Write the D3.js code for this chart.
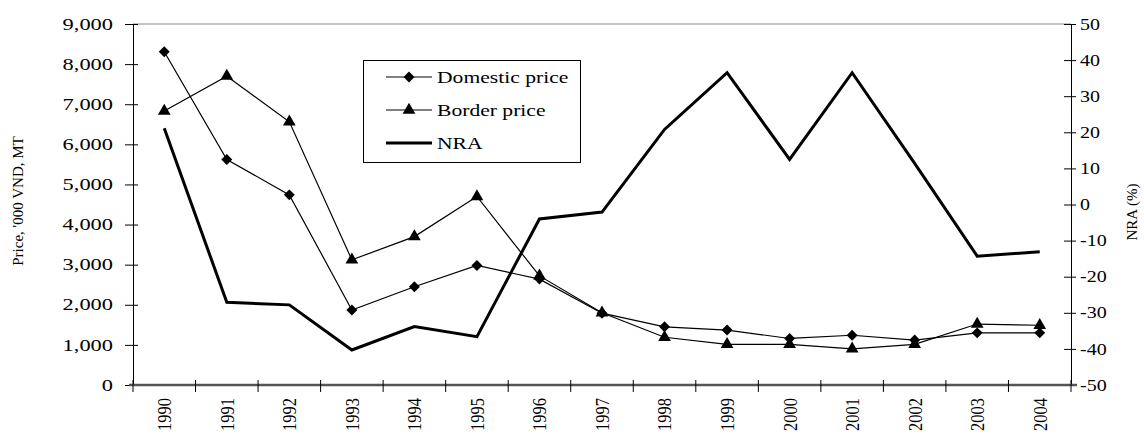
<!DOCTYPE html>
<html><head><meta charset="utf-8">
<script src="https://cdn.jsdelivr.net/npm/d3@7"></script>
<style>body{margin:0;background:#fff}svg{display:block}text{font-family:"Liberation Serif","Times New Roman",serif;fill:#000}</style>
</head><body><svg id="c" width="1144" height="435"></svg>
<script>
const years = ["1990","1991","1992","1993","1994","1995","1996","1997","1998","1999","2000","2001","2002","2003","2004"];
const domesticPrice = [8310,5620,4740,1870,2450,2980,2640,1790,1450,1370,1160,1240,1120,1300,1300];
const borderPrice = [6830,7700,6560,3120,3700,4700,2720,1800,1190,1015,1015,900,1015,1520,1490];
const nra = [21.1,-27.1,-27.8,-40.3,-33.8,-36.6,-4.0,-2.1,20.8,36.5,12.5,36.5,11.4,-14.3,-13.1];
const leftTicks = [0,1000,2000,3000,4000,5000,6000,7000,8000,9000];
const rightTicks = [-50,-40,-30,-20,-10,0,10,20,30,40,50];
const seriesNames = ["Domestic price","Border price","NRA"];
const leftTitle = "Price, '000 VND, MT";
const rightTitle = "NRA (%)";

const SX = 1.4;
const svg = d3.select("#c");
const L=133,R=1071,T=24,B=385;
const x = d3.scaleBand().domain(years).range([L,R]).padding(0);
const yL = d3.scaleLinear().domain([0,9000]).range([B,T]);
const yR = d3.scaleLinear().domain([-50,50]).range([B,T]);
const cx = d => x(d)+x.bandwidth()/2;

// top border
svg.append("line").attr("x1",L).attr("x2",R).attr("y1",T).attr("y2",T).attr("stroke","#888").attr("stroke-width",1);

// left axis
const gL = svg.append("g").attr("transform",`translate(${L},0)`)
  .call(d3.axisLeft(yL).tickValues(leftTicks).tickFormat(d3.format(",")).tickSizeInner(8).tickSizeOuter(0).tickPadding(12));
gL.select(".domain").attr("stroke","#000");
gL.selectAll(".tick line").attr("x1",5).attr("stroke","#000");
gL.selectAll(".tick text").each(function(){const t=d3.select(this);const xx=+t.attr("x");t.attr("x",0).attr("transform",`translate(${xx},0) scale(${SX},1)`);})
  .style("font-size","16px").attr("fill","#000");

// right axis
const gR = svg.append("g").attr("transform",`translate(${R},0)`)
  .call(d3.axisRight(yR).tickValues(rightTicks).tickFormat(d=>String(d)).tickSizeInner(5).tickSizeOuter(0).tickPadding(4));
gR.select(".domain").attr("stroke","#000");
gR.selectAll(".tick line").attr("x1",-7).attr("stroke","#000");
gR.selectAll(".tick text").each(function(){const t=d3.select(this);const xx=+t.attr("x");t.attr("x",0).attr("transform",`translate(${xx},0) scale(1.25,1)`);})
  .style("font-size","16px").attr("fill","#000");

// bottom axis
const gB = svg.append("g").attr("transform",`translate(0,${B})`);
gB.append("line").attr("x1",L-4).attr("x2",R+6).attr("stroke","#555").attr("stroke-width",2.5);
const bounds = years.map(d=>x(d)).concat([R]);
gB.selectAll("line.t").data(bounds).join("line").attr("class","t")
  .attr("x1",d=>d).attr("x2",d=>d).attr("y1",-5).attr("y2",7).attr("stroke","#000");
gB.selectAll("text").data(years).join("text")
  .attr("transform",d=>`translate(${cx(d)},13) scale(1.2,1) rotate(-90)`)
  .attr("text-anchor","end").attr("dy","0.35em").style("font-size","16.5px").text(d=>d);

// axis titles
svg.append("text").attr("transform",`translate(18,201) rotate(-90)`)
  .attr("text-anchor","middle").attr("dy","0.35em").style("font-size","15px").text(leftTitle);
svg.append("text").attr("transform",`translate(1132,212) rotate(-90)`)
  .attr("text-anchor","middle").attr("dy","0.35em").style("font-size","15px").text(rightTitle);

// lines
const lineL = d3.line().x((d,i)=>cx(years[i])).y(d=>yL(d));
const lineR = d3.line().x((d,i)=>cx(years[i])).y(d=>yR(d));
svg.append("path").datum(nra).attr("d",lineR).attr("fill","none").attr("stroke","#000").attr("stroke-width",3).attr("stroke-linejoin","miter");
svg.append("path").datum(domesticPrice).attr("d",lineL).attr("fill","none").attr("stroke","#000").attr("stroke-width",1.2);
svg.append("path").datum(borderPrice).attr("d",lineL).attr("fill","none").attr("stroke","#000").attr("stroke-width",1.2);

const diamond = d3.symbol().type(d3.symbolSquare).size(60);
const tri = d3.symbol().type(d3.symbolTriangle).size(70);
svg.selectAll("path.dm").data(domesticPrice).join("path").attr("class","dm")
  .attr("d",diamond).attr("transform",(d,i)=>`translate(${cx(years[i])},${yL(d)}) rotate(45)`).attr("fill","#000");
svg.selectAll("path.bm").data(borderPrice).join("path").attr("class","bm")
  .attr("d",tri).attr("transform",(d,i)=>`translate(${cx(years[i])},${yL(d)})`).attr("fill","#000");

// legend
const lg = svg.append("g");
lg.append("rect").attr("x",363.5).attr("y",60.5).attr("width",217).attr("height",102).attr("fill","#fff").attr("stroke","#000");
const rowsY = [77,110,143];
seriesNames.forEach((n,i)=>{
  const yy = rowsY[i];
  lg.append("line").attr("x1",386).attr("x2",432).attr("y1",yy).attr("y2",yy).attr("stroke","#000").attr("stroke-width",i===2?3:1.2);
  if(i===0) lg.append("path").attr("d",diamond).attr("transform",`translate(409,${yy}) rotate(45)`);
  if(i===1) lg.append("path").attr("d",tri).attr("transform",`translate(409,${yy})`);
  lg.append("text").attr("transform",`translate(437,${yy}) scale(1.35,1)`).attr("dy","0.35em").style("font-size","16px").text(n);
});
</script></body></html>
